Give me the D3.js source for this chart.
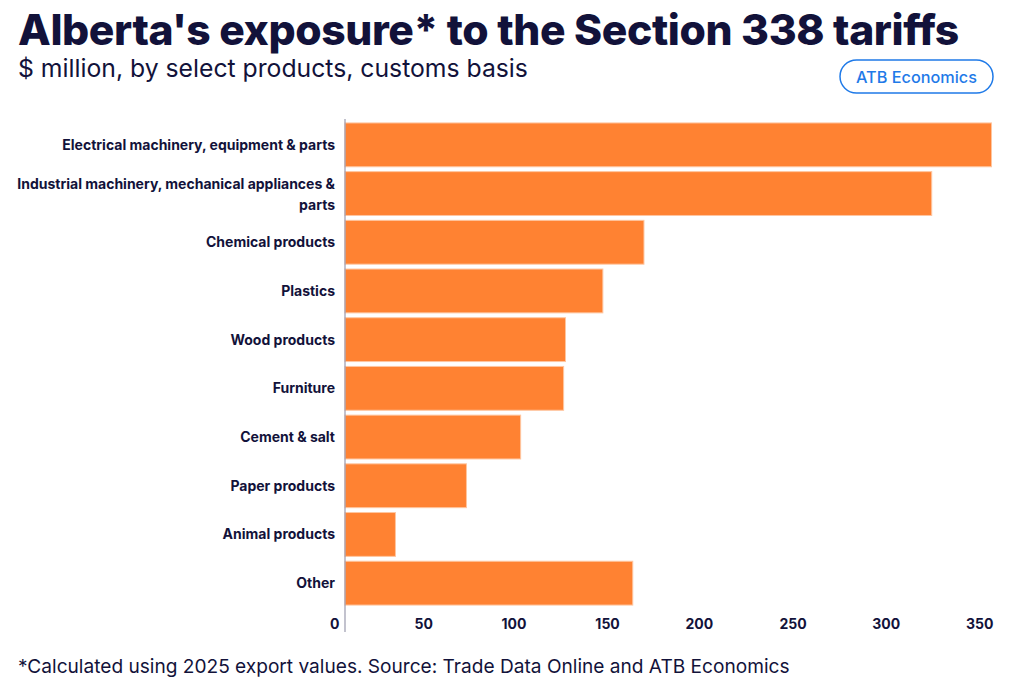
<!DOCTYPE html>
<html>
<head>
<meta charset="utf-8">
<script src="https://cdn.jsdelivr.net/npm/d3@7"></script>
<style>
  body { margin: 0; background: #fff; }
  svg { display: block; font-family: Inter, "Open Sans", sans-serif; }
</style>
</head>
<body>
<div class="graph"></div>
<script>
var categories = [
  'Electrical machinery, equipment & parts',
  'Industrial machinery, mechanical appliances & parts',
  'Chemical products',
  'Plastics',
  'Wood products',
  'Furniture',
  'Cement & salt',
  'Paper products',
  'Animal products',
  'Other'
];
var values = [346, 314, 160, 138, 118, 117, 94, 65, 27, 154];
var tickValues = [0, 50, 100, 150, 200, 250, 300, 350];

var title = "Alberta's exposure* to the Section 338 tariffs";
var subtitle = '$ million, by select products, customs basis';
var footnote = '*Calculated using 2025 export values. Source: Trade Data Online and ATB Economics';
var badge = 'ATB Economics';

var data = categories.map(function(c, i) {
  return {name: c, value: values[i]};
});

var size = {width: 1024, height: 686};
var ink = '#12123a';

var svg = d3.select('.graph').append('svg')
  .attr('width', size.width)
  .attr('height', size.height);

// scale a text's font size so it spans the wanted width
function fit(sel, width) {
  var fs = +sel.attr('font-size');
  var w = sel.node().getComputedTextLength();
  sel.attr('font-size', fs * width / w);
}

var xScale = d3.scaleLinear().domain([0, 350]).range([345, 999]);
var yScale = d3.scaleBand().domain(categories).range([120.5, 607.5]).paddingInner(0.1).paddingOuter(0.05);

// titles
svg.append('text')
  .attr('x', 18).attr('y', 45)
  .attr('font-size', 40).attr('font-weight', 800)
  .attr('letter-spacing', -0.4)
  .attr('fill', ink)
  .text(title)
  .call(fit, 940);

svg.append('text')
  .attr('x', 18).attr('y', 77)
  .attr('font-size', 22)
  .attr('fill', ink)
  .text(subtitle)
  .call(fit, 510);

svg.append('text')
  .attr('x', 18).attr('y', 673)
  .attr('font-size', 19)
  .attr('fill', ink)
  .text(footnote)
  .call(fit, 772);

// badge
var badgeG = svg.append('g').attr('transform', 'translate(840,60)');
badgeG.append('rect')
  .attr('width', 153).attr('height', 33)
  .attr('rx', 16.5)
  .attr('fill', '#fff')
  .attr('stroke', '#1f7ae8')
  .attr('stroke-width', 1.5);
badgeG.append('text')
  .attr('x', 76.5).attr('y', 22.5)
  .attr('text-anchor', 'middle')
  .attr('font-size', 16)
  .attr('font-weight', 500)
  .attr('fill', '#1f7ae8')
  .text(badge)
  .call(fit, 121);

// bars
svg.selectAll('rect.bar').data(data).enter().append('rect')
  .attr('class', 'bar')
  .attr('x', xScale(0))
  .attr('y', function(d) { return yScale(d.name); })
  .attr('width', function(d) { return xScale(d.value) - xScale(0); })
  .attr('height', yScale.bandwidth())
  .attr('fill', '#ff8232')
  .attr('stroke', '#ffc6a0')
  .attr('stroke-width', 1);

// category labels
var probe = svg.append('text').attr('font-size', 13).attr('font-weight', 700)
  .text(categories[0]);
var labelSize = 13 * 273 / probe.node().getComputedTextLength();
probe.remove();

var labels = svg.append('g').attr('class', 'yAxis');
labels.selectAll('text').data(data).enter().append('text')
  .attr('x', 335)
  .attr('y', function(d) { return yScale(d.name) + yScale.bandwidth() / 2; })
  .attr('text-anchor', 'end')
  .attr('font-size', labelSize)
  .attr('font-weight', 700)
  .attr('fill', ink)
  .each(function(d) {
    var t = d3.select(this);
    if (d.name.length > 42) {
      var cut = d.name.lastIndexOf(' ');
      t.append('tspan').attr('x', 335).attr('dy', '-0.3em').text(d.name.slice(0, cut));
      t.append('tspan').attr('x', 335).attr('dy', '1.45em').text(d.name.slice(cut + 1));
    } else {
      t.attr('dy', '0.35em').text(d.name);
    }
  });

// x axis
var xAxis = d3.axisBottom(xScale).tickValues(tickValues).tickSize(0).tickPadding(0);
var xg = svg.append('g').attr('class', 'xAxis')
  .attr('transform', 'translate(0,629)')
  .call(xAxis);
xg.select('.domain').remove();
xg.selectAll('text')
  .attr('text-anchor', 'end')
  .attr('dx', -6)
  .attr('dy', 0)
  .attr('font-family', 'Inter, sans-serif')
  .attr('font-size', labelSize)
  .attr('font-weight', 700)
  .attr('fill', ink);

// value axis baseline
svg.append('line')
  .attr('x1', xScale(0)).attr('x2', xScale(0))
  .attr('y1', 119).attr('y2', 632)
  .attr('stroke', '#9a9aae')
  .attr('stroke-width', 1.2);
</script>
</body>
</html>
